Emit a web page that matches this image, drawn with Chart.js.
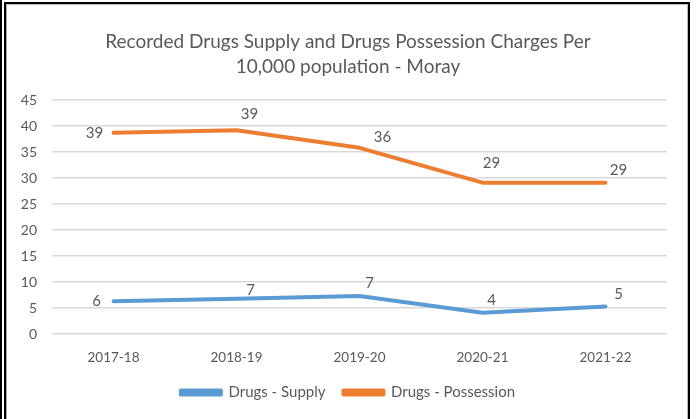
<!DOCTYPE html>
<html>
<head>
<meta charset="utf-8">
<script src="https://cdn.jsdelivr.net/npm/chart.js@4/dist/chart.umd.min.js"></script>
<style>
  html, body { margin: 0; padding: 0; background: #fff; }
  #wrap { position: relative; width: 696px; height: 419px; overflow: hidden; }
  #outer { position: absolute; left: 0; top: 0; width: 2px; height: 419px; background: #000; }
  #box { position: absolute; left: 4px; top: 2px; width: 682px; height: 440px; border: 2px solid #000; }
  #inner { position: absolute; left: 0; top: 0; right: 0; bottom: 0; border-left: 1px solid #aaa; border-top: 1px solid #bbb; border-right: 1px solid #bbb; }
  canvas { position: absolute; left: 0; top: 0; }
</style>
</head>
<body>
<div id="wrap">
  <div id="outer"></div>
  <div id="box"><div id="inner"></div></div>
  <canvas id="c" width="696" height="419"></canvas>
</div>
<script>
const categories = ['2017-18', '2018-19', '2019-20', '2020-21', '2021-22'];
const supplyValues = [6.3, 6.8, 7.3, 4.1, 5.3];
const possessionValues = [38.7, 39.2, 35.8, 29.1, 29.1];
const supplyLabels = ['6', '7', '7', '4', '5'];
const possessionLabels = ['39', '39', '36', '29', '29'];
const yTicks = [0, 5, 10, 15, 20, 25, 30, 35, 40, 45];
const titleLines = ['Recorded Drugs Supply and Drugs Possession Charges Per', '10,000 population - Moray'];

// label placement offsets (style only)
const labelOffsets = [
  [[-17, 0], [14, -8], [10, -13], [9, -13], [13, -12]],
  [[-19, 0], [13, -16], [23, -11], [9, -20], [13, -13]]
];
const labelTexts = [supplyLabels, possessionLabels];

const FONT = 'Lato, "Open Sans", sans-serif';
const TEXT = '#595959';

const dataLabelPlugin = {
  id: 'dataLabels',
  afterLayout(chart) {
    // center title and legend on the whole frame, like the reference
    [chart.titleBlock, chart.legend].forEach(b => {
      if (b) { b.left = 0; b.right = 696; b.width = 696; }
    });
  },
  afterDatasetsDraw(chart) {
    const ctx = chart.ctx;
    ctx.save();
    ctx.font = '15px ' + FONT;
    ctx.fillStyle = TEXT;
    ctx.textAlign = 'center';
    ctx.textBaseline = 'middle';
    chart.data.datasets.forEach((ds, di) => {
      const meta = chart.getDatasetMeta(di);
      meta.data.forEach((pt, i) => {
        const off = labelOffsets[di][i];
        ctx.fillText(labelTexts[di][i], pt.x + off[0], pt.y + off[1]);
      });
    });
    ctx.restore();
  }
};

new Chart(document.getElementById('c'), {
  type: 'line',
  data: {
    labels: categories,
    datasets: [
      {
        label: 'Drugs - Supply',
        data: supplyValues,
        borderColor: '#5B9BD5',
        backgroundColor: '#5B9BD5',
        borderWidth: 4,
        borderCapStyle: 'round',
        borderJoinStyle: 'round',
        pointRadius: 0,
        tension: 0
      },
      {
        label: 'Drugs - Possession',
        data: possessionValues,
        borderColor: '#ED7D31',
        backgroundColor: '#ED7D31',
        borderWidth: 4,
        borderCapStyle: 'round',
        borderJoinStyle: 'round',
        pointRadius: 0,
        tension: 0
      }
    ]
  },
  options: {
    responsive: false,
    animation: false,
    layout: { padding: { left: 0, right: 29, top: 0, bottom: 9 } },
    plugins: {
      tooltip: { enabled: false },
      title: {
        display: true,
        text: titleLines,
        color: TEXT,
        font: { family: FONT, size: 19, weight: 'normal', lineHeight: 1.3 },
        padding: { top: 30, bottom: 20.6 }
      },
      legend: {
        position: 'bottom',
        labels: {
          color: TEXT,
          font: { family: FONT, size: 15 },
          boxWidth: 40,
          boxHeight: 4,
          padding: 18
        }
      }
    },
    scales: {
      x: {
        offset: true,
        grid: { display: false, offset: true },
        border: { display: false },
        ticks: { color: TEXT, font: { family: FONT, size: 13.5 }, padding: 8, maxRotation: 0 },
        afterFit(scale) { scale.height = 33; }
      },
      y: {
        min: 0,
        max: 45,
        afterBuildTicks(scale) { scale.ticks = yTicks.map(v => ({ value: v })); },
        grid: { color: '#D9D9D9', lineWidth: 1.5, drawTicks: false },
        border: { display: false },
        ticks: { color: TEXT, font: { family: FONT, size: 14 }, padding: 15 },
        afterFit(scale) { scale.width = 52; }
      }
    }
  },
  plugins: [dataLabelPlugin]
});
</script>
</body>
</html>
